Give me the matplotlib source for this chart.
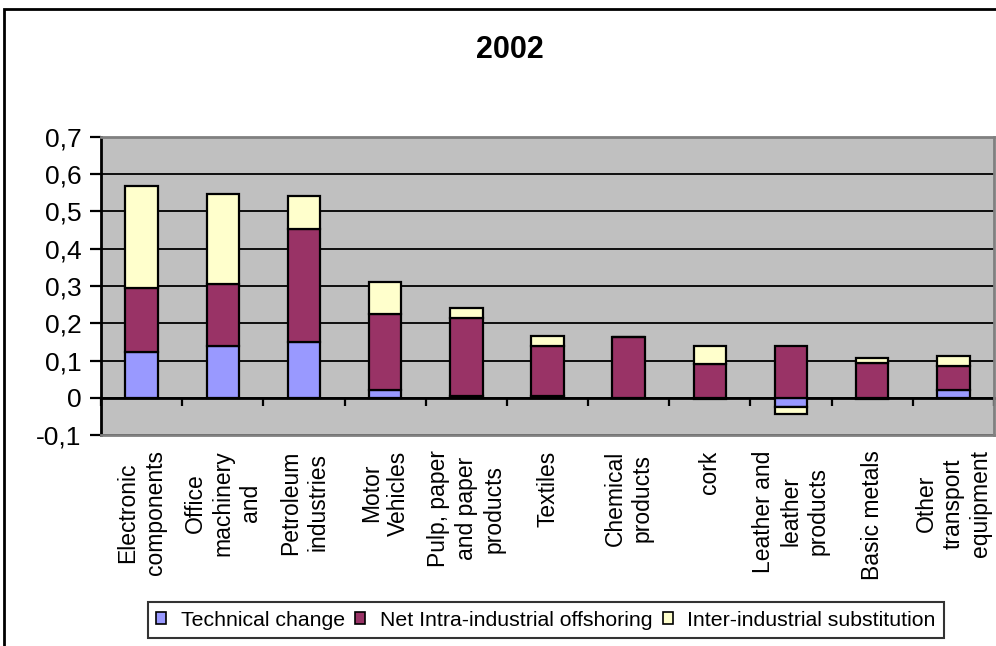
import numpy as np
import matplotlib.pyplot as plt
from matplotlib.patches import Patch, Rectangle
from matplotlib.ticker import FuncFormatter

plt.rcParams['font.family'] = ['Liberation Sans', 'DejaVu Sans']

categories = ['Electronic\ncomponents', 'Office\nmachinery\nand', 'Petroleum\nindustries',
              'Motor\nVehicles', 'Pulp, paper\nand paper\nproducts', 'Textiles',
              'Chemical\nproducts', 'cork', 'Leather and\nleather\nproducts',
              'Basic metals', 'Other\ntransport\nequipment']
technical = [0.123, 0.140, 0.151, 0.021, 0.004, 0.004, 0.0, -0.004, -0.025, -0.004, 0.022]
intra = [0.172, 0.166, 0.301, 0.205, 0.210, 0.135, 0.162, 0.091, 0.140, 0.092, 0.063]
inter = [0.274, 0.242, 0.090, 0.085, 0.028, 0.028, 0.0, 0.049, -0.018, 0.016, 0.028]
series_names = ['Technical change', 'Net Intra-industrial offshoring', 'Inter-industrial substitution']
colors = ['#9999FF', '#993366', '#FFFFCC']

fig = plt.figure(figsize=(9.96, 6.46), dpi=100)
ax = fig.add_axes([101/996, 1-435/646, (994-101)/996, (435-137)/646])
ax.set_facecolor('#C0C0C0')

x = np.arange(len(categories))
pos_bottom = np.zeros(len(categories))
neg_bottom = np.zeros(len(categories))
for vals, col in zip([technical, intra, inter], colors):
    v = np.array(vals)
    bottom = np.where(v >= 0, pos_bottom, neg_bottom)
    ax.bar(x, v, 0.4, bottom=bottom, color=col, edgecolor='black', linewidth=1.6, zorder=3)
    pos_bottom += np.where(v > 0, v, 0)
    neg_bottom += np.where(v < 0, v, 0)

ax.set_xlim(-0.5, len(categories) - 0.5)
ax.set_ylim(-0.1, 0.7)
ax.set_yticks(np.arange(-0.1, 0.71, 0.1))
ax.yaxis.set_major_formatter(FuncFormatter(lambda v, p: '0' if abs(v) < 1e-9 else ('%.1f' % v).replace('.', ',')))
ax.tick_params(axis='y', direction='out', length=8, width=1.6, labelsize=19, pad=6)
ax.yaxis.grid(True, color='black', linewidth=1.3, zorder=1)
ax.set_axisbelow(True)

ax.set_xticks(x)
ax.set_xticklabels(categories, rotation=90, multialignment='center', fontsize=16.5, linespacing=1.25)
ax.tick_params(axis='x', length=0, pad=11)

for side in ['top', 'right', 'bottom']:
    ax.spines[side].set_color('#808080')
    ax.spines[side].set_linewidth(2)
ax.spines['left'].set_color('black')
ax.spines['left'].set_linewidth(2)

# category axis crossing at zero
sec = ax.secondary_xaxis(0.125)
sec.set_xticks(np.arange(-0.5, len(categories), 1.0))
sec.set_xticklabels([])
sec.set_xticks(x, minor=True)
sec.tick_params(axis='x', which='major', direction='out', length=6, width=1.6)
sec.tick_params(axis='x', which='minor', direction='in', length=4, width=1.6)
sec.spines['bottom'].set_linewidth(2)
sec.spines['bottom'].set_color('black')

fig.text(510/996, 1-50/646, '2002', ha='center', va='center', fontsize=22, fontweight='bold')

handles = [Patch(facecolor=c, edgecolor='black', linewidth=1.2) for c in colors]
leg = fig.legend(handles, series_names, loc='center', bbox_to_anchor=(546/996, 1-620/646),
                 ncol=3, fontsize=15.3, frameon=True, fancybox=False, edgecolor='black',
                 handlelength=0.45, handleheight=0.45, handletextpad=0.7, columnspacing=0.5,
                 borderpad=0.4, borderaxespad=0)
leg.get_frame().set_linewidth(1.5)

fig.add_artist(Rectangle((4/996, -0.1), 1.2, 1.1 - 9/646, transform=fig.transFigure,
                         fill=False, edgecolor='black', linewidth=2, clip_on=False))

fig.savefig('out.png', dpi=100)
